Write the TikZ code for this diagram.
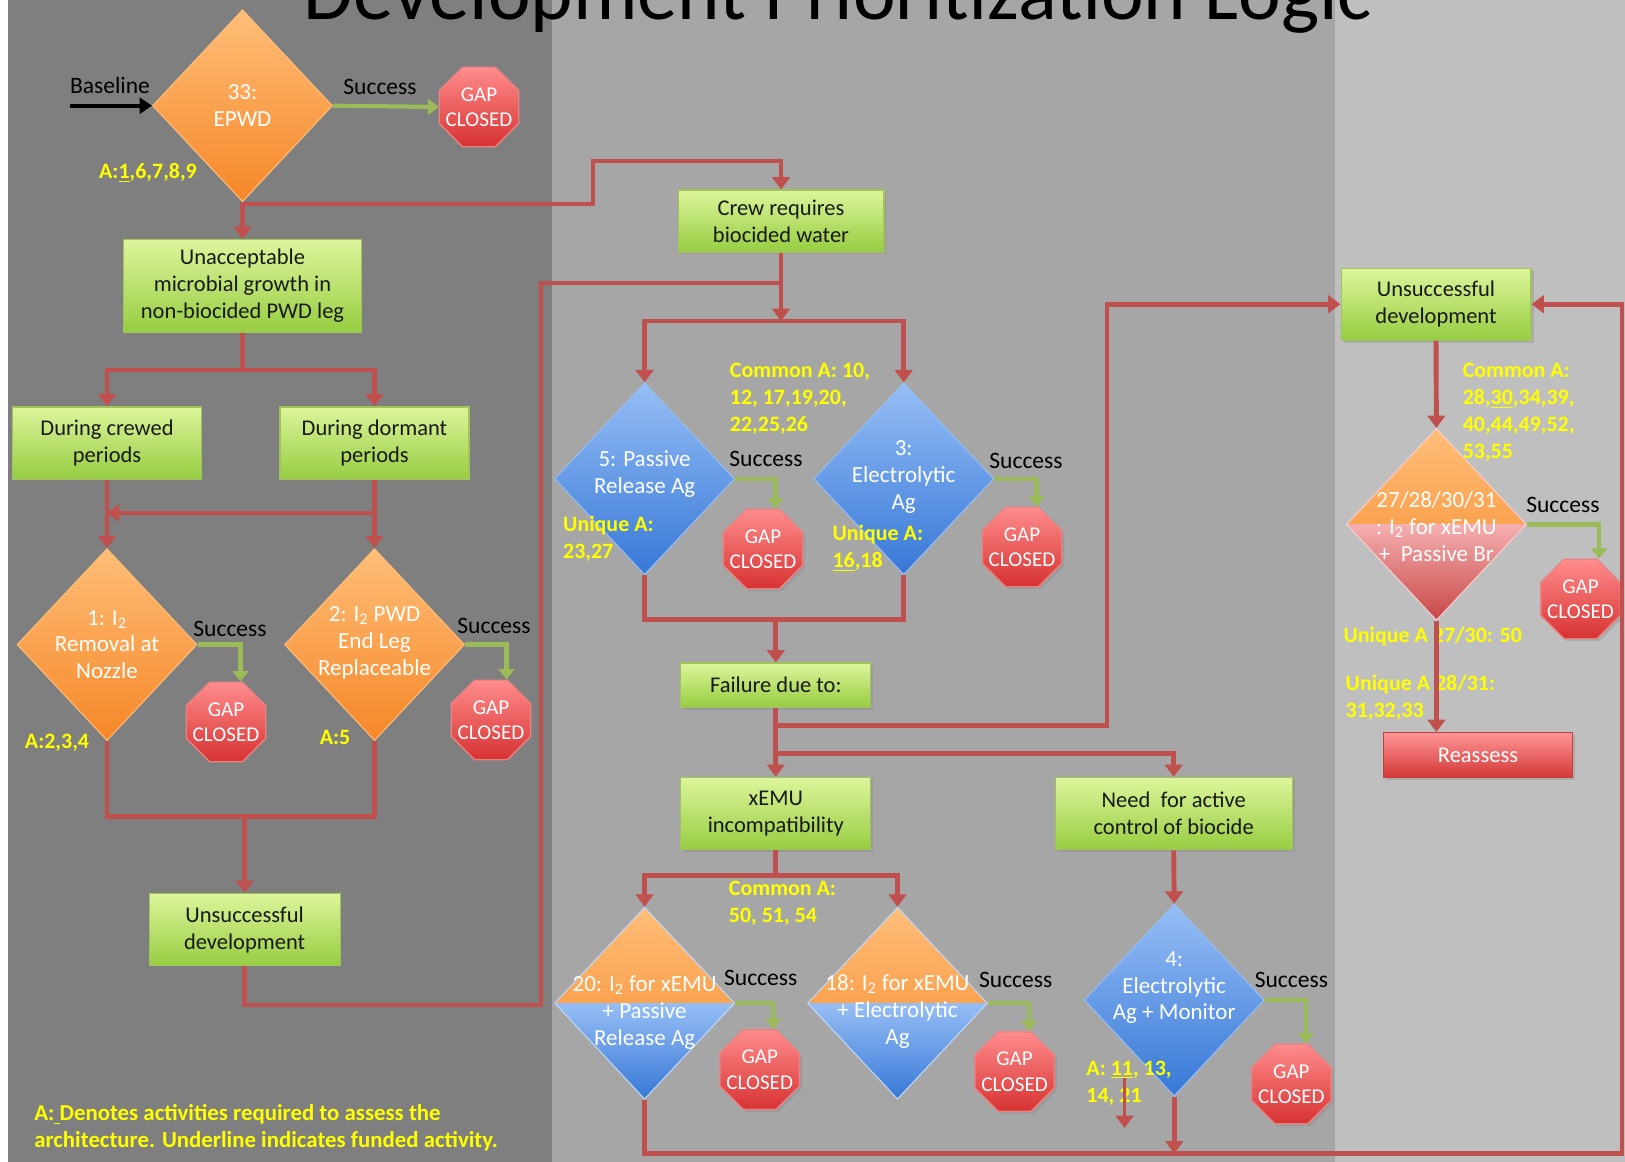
\documentclass[tikz,border=0pt]{standalone}
\usepackage{fontspec}
\setmainfont{Carlito}
\usetikzlibrary{arrows.meta,shapes.geometric,shadows}

\definecolor{pdark}{RGB}{127,127,127}
\definecolor{pmid}{RGB}{166,166,166}
\definecolor{plight}{RGB}{191,191,191}
\definecolor{lnred}{RGB}{192,80,77}
\definecolor{lngreen}{RGB}{155,187,89}
\definecolor{actyellow}{RGB}{255,255,0}
\definecolor{grTop}{RGB}{221,245,155}
\definecolor{grBot}{RGB}{150,205,65}
\definecolor{grEdge}{RGB}{160,195,90}
\definecolor{orTop}{RGB}{255,190,120}
\definecolor{orBot}{RGB}{245,135,40}
\definecolor{blTop}{RGB}{150,190,245}
\definecolor{blBot}{RGB}{55,120,215}
\definecolor{pkTop}{RGB}{245,175,175}
\definecolor{pkBot}{RGB}{200,70,70}
\definecolor{rdTop}{RGB}{255,140,140}
\definecolor{rdBot}{RGB}{215,50,50}
\definecolor{rdEdge}{RGB}{235,130,130}

\tikzset{
    taskbox/.style={rectangle, draw=grEdge, line width=0.6pt, top color=grTop, bottom color=grBot,
        align=center, text={black!90}, font=\fontsize{12.8}{15.3}\selectfont, inner sep=0pt,
        drop shadow={shadow xshift=0.05cm, shadow yshift=-0.05cm, opacity=0.3}},
    reassbox/.style={rectangle, draw={rgb,255:red,200;green,60;blue,60}, line width=0.6pt,
        top color={rgb,255:red,255;green,150;blue,150}, bottom color={rgb,255:red,210;green,55;blue,55},
        text=white, font=\fontsize{12.8}{15}\selectfont, inner sep=0pt,
        minimum width=3.78cm, minimum height=0.9cm,
        drop shadow={shadow xshift=0.05cm, shadow yshift=-0.05cm, opacity=0.3}},
    gaptext/.style={text=white, align=center, font=\fontsize{12}{14.5}\selectfont, inner sep=0pt},
    gapstop/.style={regular polygon, regular polygon sides=8, minimum size=1.72cm, inner sep=0pt,
        draw=rdEdge, line width=0.8pt, top color=rdTop, bottom color=rdBot,
        label={[gaptext]center:{GAP\\CLOSED}},
        drop shadow={shadow xshift=0.05cm, shadow yshift=-0.05cm, opacity=0.3}},
    decide/.style={diamond, minimum width=3.6cm, minimum height=3.84cm, inner sep=0pt, line width=0.6pt},
    orangedec/.style={decide, draw=orTop, top color=orTop, bottom color=orBot},
    bluedec/.style={decide, draw=blTop, top color=blTop, bottom color=blBot},
    splitdec/.style n args={4}{decide, draw=white!40!#3, path picture={
        \shade[top color=#1, bottom color=#2] (path picture bounding box.north west) rectangle (path picture bounding box.east);
        \shade[top color=#3, bottom color=#4] (path picture bounding box.west) rectangle (path picture bounding box.south east);}},
    dtext/.style={text=white, align=center, font=\fontsize{13.1}{15.3}\selectfont, inner sep=0pt},
    okword/.style={text=black, font=\fontsize{13.4}{15}\selectfont, inner sep=0pt},
    actnote/.style={text=actyellow, font=\fontsize{12.5}{15.3}\selectfont\bfseries, align=left,
        inner sep=0pt, anchor=north west},
    redline/.style={draw=lnred, line width=2.8pt},
    flow/.style={redline, -{Triangle[width=10pt,length=7pt]}},
    okflow/.style={draw=lngreen, line width=2.4pt, -{Triangle[width=9pt,length=6pt]}},
    startflow/.style={draw=black, line width=2.2pt, -{Triangle[width=9pt,length=7pt]}},
}

\begin{document}
\begin{tikzpicture}[x=0.02cm, y=-0.02cm]
    \useasboundingbox (0,0) rectangle (1625,1162);
    \clip (0,0) rectangle (1625,1162);

    % Panels
    \fill[white] (0,0) rectangle (1625,1162);
    \fill[pdark] (8,0) rectangle (552,1162);
    \fill[pmid] (552,0) rectangle (1335,1162);
    \fill[plight] (1335,0) rectangle (1625,1162);

    % Title (cut off at the top)
    \node[font=\fontsize{46}{50}\selectfont, anchor=base, inner sep=0pt] (title) at (838,20) {Development Prioritization Logic};

    % Column 1: non-biocided leg
    \node[orangedec] (d33) at (242.5,105.7) {};
    \node[dtext] (d33t) at (d33) {33:\\EPWD};
    \coordinate (bl) at (70,105.7);
    \node[okword] (blword) at (110,85) {Baseline};
    \node[okword] (s33) at (380,87) {Success};
    \node[gapstop] (g33) at (479,107) {};
    \node[actnote, anchor=center] (a33) at (148,173) {A:\underline{1},6,7,8,9};

    \node[taskbox, minimum width=4.76cm, minimum height=1.86cm] (unacc) at (242.5,286) {Unacceptable\\microbial growth in\\non-biocided PWD leg};
    \node[taskbox, minimum width=3.78cm, minimum height=1.44cm] (crewed) at (107,443) {During crewed\\periods};
    \node[taskbox, minimum width=3.78cm, minimum height=1.44cm] (dormant) at (374.5,443) {During dormant\\periods};

    \node[orangedec] (d1) at (107,644.6) {};
    \node[dtext] (d1t) at (d1) {1: I\textsubscript{2}\\Removal at\\Nozzle};
    \node[orangedec] (d2) at (374.5,644.6) {};
    \node[dtext] (d2t) at ([yshift=0.04cm]d2) {2: I\textsubscript{2} PWD\\End Leg\\Replaceable};
    \node[okword] (s1) at (230,629) {Success};
    \node[gapstop] (g1) at (226,722) {};
    \node[okword] (s2) at (494,626) {Success};
    \node[gapstop] (g2) at (491,720) {};
    \node[actnote, anchor=center] (a1) at (57,743) {A:2,3,4};
    \node[actnote, anchor=center] (a2) at (335,737) {A:5};

    \node[taskbox, minimum width=3.82cm, minimum height=1.45cm] (uleft) at (244.6,929.7) {Unsuccessful\\development};
    \node[actnote, font=\fontsize{13}{15.3}\selectfont\bfseries] (legend) at (34,1104) {A:\underline{\ }Denotes activities required to assess the\\architecture. Underline indicates funded activity.};

    % Column 2: biocided water
    \node[taskbox, minimum width=4.12cm, minimum height=1.24cm] (crew) at (781,221) {Crew requires\\biocided water};
    \node[bluedec] (d5) at (644.6,478.8) {};
    \node[dtext] (d5t) at ([yshift=0.1cm]d5) {5: Passive\\Release Ag};
    \node[bluedec] (d3) at (903.7,478.8) {};
    \node[dtext] (d3t) at ([yshift=0.04cm]d3) {3:\\Electrolytic\\Ag};
    \node[actnote] (comA1) at (729.6,363) {Common A: 10,\\12, 17,19,20,\\22,25,26};
    \node[okword] (s5) at (766,459) {Success};
    \node[gapstop] (g5) at (763,549) {};
    \node[okword] (s3) at (1026,461) {Success};
    \node[gapstop] (g3) at (1022,547) {};
    \node[actnote] (uq5) at (562.8,516) {Unique A:\\23,27};
    \node[actnote] (uq3) at (832.2,524.7) {Unique A:\\\underline{16},18};

    \node[taskbox, minimum width=3.8cm, minimum height=0.88cm] (fail) at (775.8,685) {Failure due to:};
    \node[taskbox, minimum width=3.8cm, minimum height=1.45cm] (xemu) at (775.8,813.6) {xEMU\\incompatibility};
    \node[taskbox, minimum width=4.74cm, minimum height=1.45cm] (need) at (1173.7,813.6) {Need\ \ for active\\control of biocide};

    \node[splitdec={orTop}{orBot}{blTop}{blBot}] (d20) at (644.6,1003.2) {};
    \node[dtext] (d20t) at ([yshift=-0.19cm]d20) {20: I\textsubscript{2} for xEMU\\+ Passive\\Release Ag};
    \node[splitdec={orTop}{orBot}{blTop}{blBot}] (d18) at (897.5,1003.2) {};
    \node[dtext] (d18t) at ([yshift=-0.17cm]d18) {18: I\textsubscript{2} for xEMU\\+ Electrolytic\\Ag};
    \node[actnote] (comA2) at (728.6,881.2) {Common A:\\50, 51, 54};
    \node[okword] (s20) at (760.7,978.4) {Success};
    \node[gapstop] (g20) at (759.7,1069.6) {};
    \node[okword] (s18) at (1015.7,980.4) {Success};
    \node[gapstop] (g18) at (1014.6,1071.6) {};

    \node[bluedec] (d4) at (1174.2,1000.1) {};
    \node[dtext] (d4t) at ([yshift=0.25cm]d4) {4:\\Electrolytic\\Ag + Monitor};
    \node[okword] (s4) at (1291.4,980.4) {Success};
    \node[gapstop] (g4) at (1291.4,1084) {};
    \node[actnote] (a4) at (1086.1,1060.5) {A: \underline{11}, 13,\\14, 21};

    % Column 3: xEMU compatible biocide
    \node[taskbox, minimum width=3.8cm, minimum height=1.44cm] (uright) at (1436,304.2) {Unsuccessful\\development};
    \node[splitdec={orTop}{orBot}{pkTop}{pkBot}] (d27) at (1436.4,524.4) {};
    \node[dtext] (d27t) at ([yshift=-0.04cm]d27) {27/28/30/31\\: I\textsubscript{2} for xEMU\\+\ \ Passive Br};
    \node[actnote] (comA3) at (1462.4,363) {Common A:\\28,\underline{30},34,39,\\40,44,49,52,\\53,55};
    \node[okword] (s27) at (1562.9,504.7) {Success};
    \node[gapstop] (g27) at (1580.5,599) {};
    \node[actnote, anchor=base west] (uq27a) at (1343.2,642.3) {Unique A 27/30: 50};
    \node[actnote] (uq27b) at (1345.3,675) {Unique A 28/31:\\31,32,33};
    \node[reassbox] (reass) at (1478,755) {Reassess};

    % Connectors, column 1
    \draw[startflow] (bl) -- (d33.west);
    \draw[okflow] (d33.east) -- (g33.west);
    \draw[flow] (d33.south) -- (unacc.north);
    \coordinate (j0) at (242.5,204);
    \draw[flow] (j0) -| (593,161) -| (crew.north);
    \coordinate (j7) at (242.5,370);
    \draw[redline] (unacc.south) -- (j7);
    \draw[flow] (j7) -| (crewed.north);
    \draw[flow] (j7) -| (dormant.north);
    \draw[flow] (crewed.south) -- (d1.north);
    \draw[flow] (dormant.south) -- (d2.north);
    \coordinate (j8) at (374.5,513);
    \draw[flow] (j8) -- (d1.north |- j8);
    \draw[okflow] (d1.east) -| ([xshift=0.29cm]g1.north);
    \draw[okflow] (d2.east) -| ([xshift=0.31cm]g2.north);
    \coordinate (j9) at (244.6,816.7);
    \draw[redline] (d1.south) |- (d2.south |- j9) -- (d2.south);
    \draw[flow] (j9) -- (uleft.north);
    \coordinate (j2) at (781,283);
    \draw[redline] (uleft.south) |- (541,1005) |- (j2);

    % Connectors, column 2
    \coordinate (j1) at (781,321);
    \draw[flow] (crew.south) -- (j1);
    \draw[flow] (j1) -| (d5.north);
    \draw[flow] (j1) -| (d3.north);
    \draw[okflow] (d5.east) -| ([xshift=0.25cm]g5.north);
    \draw[okflow] (d3.east) -| ([xshift=0.29cm]g3.north);
    \coordinate (j3) at (775.8,619.8);
    \draw[redline] (d5.south) |- (d3.south |- j3) -- (d3.south);
    \draw[flow] (j3) -- (fail.north);
    \draw[flow] (fail.south) -- (xemu.north);
    \coordinate (j4) at (775.8,725.5);
    \draw[flow] (j4) -| (1107,304.2) -- (uright.west);
    \coordinate (j5) at (775.8,753.5);
    \draw[flow] (j5) -| (need.north);
    \coordinate (j6) at (775.8,875.8);
    \draw[redline] (xemu.south) -- (j6);
    \draw[flow] (j6) -| (d20.north);
    \draw[flow] (j6) -| (d18.north);
    \draw[okflow] (d20.east) -| ([xshift=0.27cm]g20.north);
    \draw[okflow] (d18.east) -| ([xshift=0.29cm]g18.north);
    \draw[flow] (need.south) -- (d4.north);
    \draw[okflow] (d4.east) -| ([xshift=0.29cm]g4.north);
    \coordinate (j10) at (1174.2,1153.5);
    \draw[flow] (d4.south) -- (j10);
    \coordinate (sa1) at (1124.5,1078);
    \coordinate (sa2) at (1124.5,1128);
    \draw[flow, line width=2pt] (sa1) -- (sa2);
    \coordinate (j11) at (1622,1153.5);
    \draw[flow] (d20.south) |- (j11) |- (uright.east);

    % Connectors, column 3
    \draw[flow] (uright.south) -- (d27.north);
    \draw[okflow] (d27.east) -| ([xshift=0.37cm]g27.north);
    \draw[flow] (d27.south) -- (d27.south |- reass.north);
\end{tikzpicture}
\end{document}
